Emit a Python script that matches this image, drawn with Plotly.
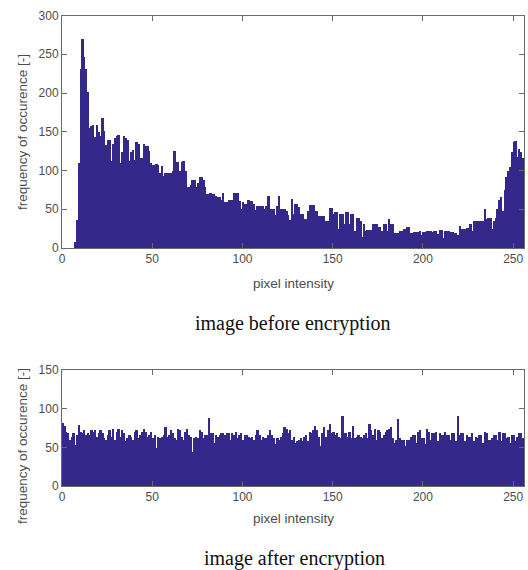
import plotly.graph_objects as go

# ---------------- data ----------------
intensity = list(range(256))

before_counts = (
    [0, 0, 0, 0, 0, 0, 0,
     8, 37, 110, 232, 270, 247, 232, 202, 156, 158,
     159, 144, 160, 150, 145, 168, 152, 133, 140, 140,
     113, 135, 142, 145, 146, 110, 124, 145, 143, 140,
     113, 124, 127, 114, 138, 135, 117, 117, 135, 132,
     132, 126, 110, 108, 108, 109, 108, 97, 106, 93,
     98, 98, 98, 97, 100, 126]
    + [112, 112, 100, 112, 113, 100, 80, 80, 82, 88,
       88, 80, 85, 92, 92, 88, 80, 70, 70, 72,
       70, 70, 68, 66, 66, 63, 72, 60, 60, 63,
       63, 63, 72, 72, 72, 61, 51, 60, 58, 58,
       62, 61, 61, 58, 50, 55, 55, 55, 55, 51,
       55, 68, 51, 51, 51, 43, 55, 68, 51, 51,
       51, 49, 43]
    + [37, 64, 45, 58, 58, 53, 45, 45, 38, 38,
       49, 56, 56, 56, 49, 49, 42, 42, 42, 42,
       36, 36, 52, 52, 45, 47, 47, 25, 45, 45,
       32, 47, 47, 32, 44, 44, 23, 40, 40, 36,
       15, 32, 23, 24, 24, 24, 32, 32, 32, 28,
       28, 23, 32, 32, 23, 38, 32, 32, 20, 20,
       20]
    + [23, 23, 25, 25, 28, 28, 20, 20, 21, 21,
       21, 23, 17, 21, 21, 23, 23, 23, 21, 23,
       23, 19, 24, 24, 14, 23, 23, 23, 21, 21,
       20, 20, 17, 29, 25, 25, 25, 26, 26, 32,
       23, 36, 36, 36, 36, 36, 36, 51, 38, 40,
       40, 25, 36, 40, 51, 62, 66, 49, 75, 92,
       100, 105, 125, 138, 139, 118, 128, 125, 117]
)

after_counts = (
    [81, 77, 70, 68, 60, 64, 68, 53, 66, 79,
     70, 68, 72, 66, 68, 66, 72, 70, 72, 64,
     68, 72, 68, 62, 59, 66, 72, 64, 74, 60,
     70, 74, 64, 72, 68, 58, 62, 66, 64, 60,
     70, 72, 62, 66, 70, 74, 70, 64, 66, 70,
     62, 66, 49, 64, 62, 64, 66, 76, 64, 66,
     72, 68, 62, 60]
    + [74, 72, 64, 60, 70, 74, 66, 64, 44, 62,
       64, 62, 72, 70, 62, 66, 66, 88, 68, 68,
       56, 66, 64, 66, 68, 68, 66, 68, 68, 60,
       68, 66, 70, 62, 66, 68, 60, 66, 66, 64,
       62, 64, 60, 66, 72, 66, 60, 64, 62, 62,
       66, 72, 66, 62, 54, 62, 60, 64, 68, 76,
       74, 68, 72]
    + [60, 64, 55, 58, 60, 62, 58, 64, 66, 58,
       70, 68, 72, 78, 72, 64, 52, 68, 76, 64,
       72, 80, 68, 70, 66, 68, 64, 62, 90, 68,
       68, 64, 70, 62, 78, 62, 64, 66, 64, 62,
       66, 68, 62, 80, 72, 66, 74, 60, 72, 70,
       62, 66, 70, 72, 74, 76, 62, 56, 60, 87]
    + [62, 60, 60, 52, 60, 60, 64, 66, 66, 56,
       70, 72, 62, 62, 54, 74, 70, 60, 68, 68,
       70, 58, 68, 66, 66, 70, 66, 66, 60, 68,
       68, 58, 90, 66, 68, 68, 58, 66, 64, 64,
       68, 58, 64, 62, 66, 66, 56, 70, 68, 60,
       60, 62, 66, 66, 60, 70, 58, 68, 68, 62,
       64, 56, 66, 66, 58, 64, 68, 68, 62]
)

x_ticks = [0, 50, 100, 150, 200, 250]
y_ticks_top = [0, 50, 100, 150, 200, 250, 300]
y_ticks_bottom = [0, 50, 100, 150]

x_title = "pixel intensity"
y_title = "frequency of occurence [-]"
caption_top = "image before encryption"
caption_bottom = "image after encryption"

# ---------------- figure ----------------
W, H = 528, 570
BAR = "#34298a"
AX = "#6a6a6a"
TXT = "#4d4d4d"
SANS = "Liberation Sans, Arial, sans-serif"
SERIF = "Liberation Serif, Times New Roman, serif"

def px(x):
    return x / W

def py(y):
    return (H - y) / H

fig = go.Figure()
fig.add_trace(go.Bar(x=[v + 0.5 for v in intensity], y=before_counts, width=1,
                     marker=dict(color=BAR, line=dict(width=0)),
                     xaxis="x", yaxis="y", showlegend=False, hoverinfo="x+y"))
fig.add_trace(go.Bar(x=[v + 0.5 for v in intensity], y=after_counts, width=1,
                     marker=dict(color=BAR, line=dict(width=0)),
                     xaxis="x2", yaxis="y2", showlegend=False, hoverinfo="x+y"))

xdom = [px(62), px(524)]
common_x = dict(range=[0, 256], tickvals=x_ticks, ticks="inside", ticklen=5,
                tickcolor=AX, showline=True, linecolor=AX, linewidth=1,
                mirror="ticks", showgrid=False, zeroline=False, automargin=False,
                tickfont=dict(family=SANS, size=12, color=TXT), domain=xdom)
common_y = dict(ticks="inside", ticklen=5, tickcolor=AX, showline=True,
                linecolor=AX, linewidth=1, mirror="ticks", showgrid=False,
                zeroline=False, automargin=False,
                tickfont=dict(family=SANS, size=12, color=TXT))

fig.update_layout(
    width=W, height=H, margin=dict(l=0, r=0, t=0, b=0, autoexpand=False),
    paper_bgcolor="white", plot_bgcolor="white", bargap=0,
    xaxis=dict(anchor="y", **common_x),
    yaxis=dict(anchor="x", range=[0, 300], tickvals=y_ticks_top,
               domain=[py(248), py(15.5)], **common_y),
    xaxis2=dict(anchor="y2", **common_x),
    yaxis2=dict(anchor="x2", range=[0, 150], tickvals=y_ticks_bottom,
                domain=[py(486), py(370)], **common_y),
)

ann = [
    dict(text=x_title, x=px(293), y=py(283), font=dict(family=SANS, size=13.5, color=TXT)),
    dict(text=x_title, x=px(293), y=py(518), font=dict(family=SANS, size=13.5, color=TXT)),
    dict(text=y_title, x=px(22), y=py(132), textangle=-90, font=dict(family=SANS, size=13.5, color=TXT)),
    dict(text=y_title, x=px(22), y=py(446), textangle=-90, font=dict(family=SANS, size=13.5, color=TXT)),
    dict(text=caption_top, x=px(292), y=py(323), font=dict(family=SERIF, size=20, color="#111111")),
    dict(text=caption_bottom, x=px(294), y=py(558), font=dict(family=SERIF, size=20, color="#111111")),
]
for a in ann:
    a.update(xref="paper", yref="paper", showarrow=False, xanchor="center", yanchor="middle")
fig.update_layout(annotations=ann)

fig.write_html("out.html", config={"displayModeBar": False},
               post_script="document.body.style.margin='0';document.body.style.overflow='hidden';")
